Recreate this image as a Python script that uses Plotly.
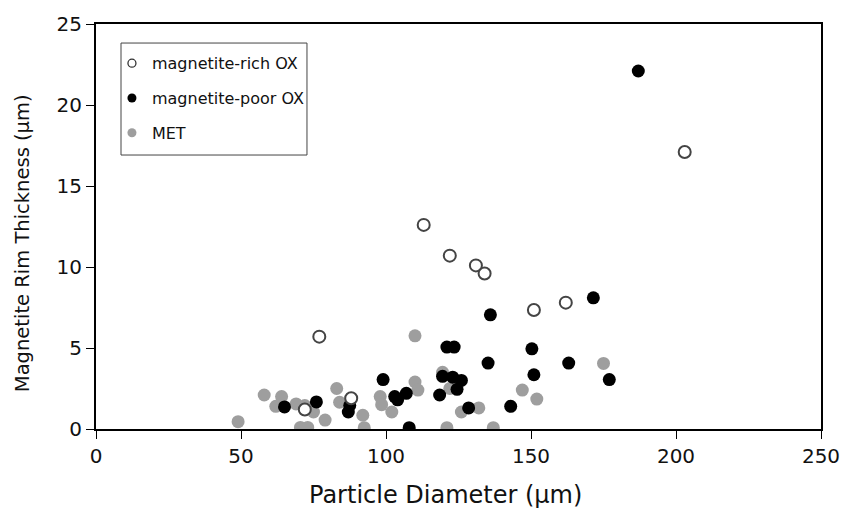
import plotly.graph_objects as go

# magnetite-rich OX (open circles)
rich_x = [77, 88, 72, 113, 122, 131, 134, 151, 162, 203]
rich_y = [5.7, 1.9, 1.2, 12.6, 10.7, 10.1, 9.6, 7.35, 7.8, 17.1]

# magnetite-poor OX (black)
poor_x = [187, 171.5, 136, 121, 123.5, 150.3, 135.2, 163, 151, 177, 99, 119.5, 123, 126, 124.5,
          118.5, 107, 103, 104, 76, 87.5, 87, 65, 108, 128.5, 143]
poor_y = [22.1, 8.1, 7.05, 5.06, 5.06, 4.95, 4.07, 4.07, 3.35, 3.05, 3.05, 3.25, 3.2, 3.0, 2.45,
          2.1, 2.2, 2.0, 1.8, 1.67, 1.45, 1.05, 1.36, 0.08, 1.3, 1.4]

# MET (grey)
met_x = [49, 58, 64, 62, 69, 72, 75, 70.5, 73, 79, 83, 84, 92, 92.5, 98, 98.5, 102, 110, 110,
         111, 119.5, 121, 122, 126, 132, 137, 147, 152, 175]
met_y = [0.45, 2.1, 2.0, 1.4, 1.55, 1.45, 1.05, 0.1, 0.1, 0.55, 2.5, 1.65, 0.85, 0.08, 2.0, 1.5,
         1.05, 5.75, 2.9, 2.4, 3.5, 0.08, 2.5, 1.05, 1.3, 0.08, 2.4, 1.85, 4.05]

x_ticks = [0, 50, 100, 150, 200, 250]
y_ticks = [0, 5, 10, 15, 20, 25]

x_title = "Particle Diameter (µm)"
y_title = "Magnetite Rim Thickness (µm)"

GREY = "#9e9e9e"
MS = 13
FONT = "DejaVu Sans"
TXT = "#111111"

fig = go.Figure()
fig.add_trace(go.Scatter(x=met_x, y=met_y, mode="markers", showlegend=False,
                         marker=dict(size=MS, color=GREY, line=dict(width=0))))
fig.add_trace(go.Scatter(x=poor_x, y=poor_y, mode="markers", showlegend=False,
                         marker=dict(size=MS, color="black", line=dict(width=0))))
fig.add_trace(go.Scatter(x=rich_x, y=rich_y, mode="markers", showlegend=False,
                         marker=dict(size=MS - 1, color="white", line=dict(width=2, color="#444444"))))

# legend-only entries with smaller symbols
fig.add_trace(go.Scatter(x=[None], y=[None], mode="markers", name="magnetite-rich OX",
                         legendgroup="a",
                         marker=dict(size=8, color="white", line=dict(width=1.3, color="#333333"))))
fig.add_trace(go.Scatter(x=[None], y=[None], mode="markers", name="magnetite-poor OX",
                         legendgroup="b", marker=dict(size=9, color="black")))
fig.add_trace(go.Scatter(x=[None], y=[None], mode="markers", name="MET",
                         legendgroup="c", marker=dict(size=9, color=GREY)))

axis_common = dict(showline=True, linecolor="black", linewidth=2, mirror=True,
                   ticks="outside", ticklen=8, tickcolor="black", tickwidth=1,
                   showgrid=False, zeroline=False, automargin=False,
                   tickfont=dict(family=FONT, size=20, color=TXT))

fig.update_xaxes(range=[0, 250], tickvals=x_ticks, ticktext=[str(v) for v in x_ticks],
                 **axis_common)
fig.update_yaxes(range=[0, 25], tickvals=y_ticks, ticktext=[str(v) for v in y_ticks],
                 **axis_common)

# axis titles placed as annotations to match the original positions
fig.add_annotation(text=x_title, xref="paper", yref="paper", x=0.4814, y=-0.163,
                   xanchor="center", yanchor="middle", showarrow=False,
                   font=dict(family=FONT, size=24, color=TXT))
fig.add_annotation(text=y_title, xref="paper", yref="paper", x=-0.102, y=0.459,
                   xanchor="center", yanchor="middle", showarrow=False, textangle=-90,
                   font=dict(family=FONT, size=19.5, color=TXT))

# legend frame (drawn separately so the text sits close to the symbols)
fig.add_shape(type="rect", xref="paper", yref="paper", x0=0.0345, x1=0.291, y0=0.6765, y1=0.953,
              line=dict(color="#444444", width=1), fillcolor="rgba(0,0,0,0)", layer="above")

fig.update_layout(
    width=845, height=509,
    margin=dict(l=96, r=24, t=24, b=80),
    plot_bgcolor="white", paper_bgcolor="white",
    font=dict(family=FONT, color=TXT),
    legend=dict(x=0.022, y=0.945, xanchor="left", yanchor="top",
                borderwidth=0, bgcolor="rgba(0,0,0,0)",
                font=dict(family=FONT, size=16, color=TXT),
                tracegroupgap=11, traceorder="grouped", itemwidth=30),
)

fig.write_html(
    "out.html",
    config={"displayModeBar": False},
    post_script="document.body.style.margin='0';document.body.style.overflow='hidden';"
                "document.documentElement.style.overflow='hidden';",
)
